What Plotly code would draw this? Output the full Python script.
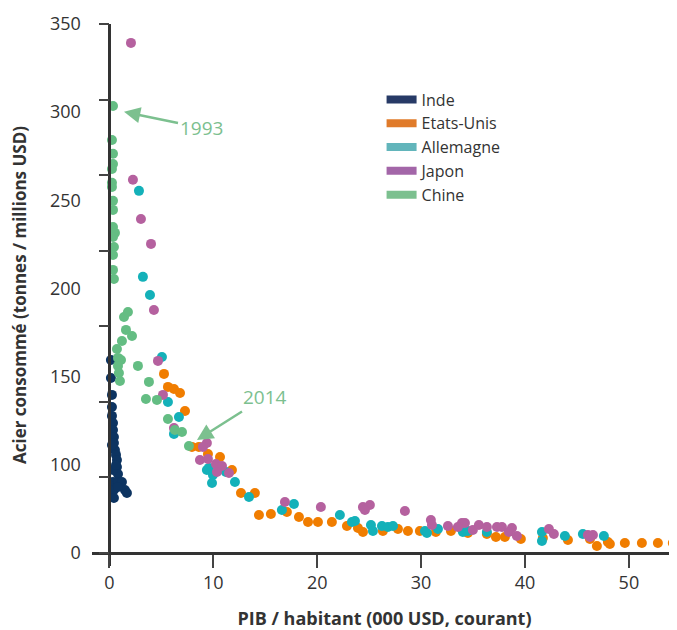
import plotly.graph_objects as go

# ---- data (GDP per capita, 000 USD ; steel consumed, t / million USD) ----
inde_x = [0.14, 0.14, 0.24, 0.24, 0.24, 0.34, 0.34, 0.43, 0.43, 0.53, 0.63, 0.72, 0.72,
          0.82, 0.34, 0.24, 0.34, 0.82, 1.20, 1.49, 1.68, 0.43, 0.43, 0.82, 0.63]
inde_y = [127.7, 115.8, 104.6, 96.6, 90.7, 86.0, 81.4, 76.8, 72.8, 68.2, 64.9, 61.5, 56.9,
          52.3, 54.9, 71.5, 47.0, 47.0, 47.0, 41.7, 39.7, 41.7, 36.4, 43.7, 58.2]

usa_x = [5.25, 5.63, 6.21, 6.79, 7.27, 7.94, 8.61, 9.48, 10.64, 11.79, 12.66, 14.00, 14.39,
         15.54, 17.08, 18.24, 19.11, 20.07, 21.41, 22.86, 23.92, 24.40, 26.32, 27.77, 28.73,
         29.88, 31.42, 32.87, 34.50, 36.33, 37.20, 38.06, 39.60, 41.72, 44.13, 46.25, 46.92,
         47.98, 48.17, 49.61, 51.25, 52.79, 54.23]
usa_y = [118.5, 109.9, 108.5, 105.9, 94.0, 70.2, 70.2, 65.5, 63.5, 54.9, 39.7, 39.7, 25.1,
         25.8, 27.1, 23.8, 20.5, 20.5, 20.5, 17.9, 16.5, 13.9, 14.6, 15.9, 14.6,
         14.6, 13.9, 14.6, 13.2, 12.6, 10.6, 10.6, 9.3, 9.9, 8.6, 9.3, 4.6,
         7.3, 6.0, 6.6, 6.6, 6.6, 6.6]

all_x = [2.84, 3.22, 3.90, 5.05, 5.63, 6.69, 6.21, 9.38, 9.58, 9.96, 9.87, 11.21, 12.08,
         13.43, 16.60, 17.76, 22.18, 23.34, 23.63, 25.17, 25.36, 26.23, 26.80, 27.29, 30.37,
         30.56, 31.62, 34.02, 34.50, 36.33, 41.63, 41.63, 43.84, 45.57, 47.59]
all_y = [239.6, 182.7, 170.7, 129.7, 99.9, 90.0, 78.8, 54.9, 56.3, 51.6, 46.3, 53.6, 47.0,
         37.1, 28.5, 32.4, 25.1, 20.5, 21.2, 18.5, 14.6, 17.9, 17.2, 17.9, 14.6,
         13.2, 15.9, 13.9, 14.6, 13.9, 13.9, 7.9, 11.3, 12.6, 11.3]

jap_x = [2.07, 2.26, 3.03, 4.00, 4.28, 4.67, 5.15, 6.21, 9.38, 9.00, 8.71, 9.48, 10.25,
         10.83, 10.35, 11.50, 16.89, 20.35, 24.40, 25.07, 24.59, 28.44, 30.94, 31.04, 32.58,
         33.93, 34.22, 33.54, 34.98, 35.56, 36.33, 37.30, 37.78, 38.74, 38.45, 39.22, 42.30,
         42.78, 46.05, 46.54, 46.25]
jap_y = [337.5, 246.9, 221.0, 204.5, 160.8, 127.1, 104.6, 82.7, 72.8, 70.2, 61.5, 62.2, 58.9,
         57.6, 53.6, 52.9, 33.8, 30.4, 30.4, 31.8, 28.5, 27.8, 21.8, 18.5, 17.9,
         19.9, 19.9, 17.2, 15.2, 18.5, 17.2, 17.2, 17.2, 16.5, 13.9, 11.3, 15.9,
         12.6, 11.9, 11.9, 10.6]

chi_x = [0.34, 0.24, 0.34, 0.34, 0.24, 0.24, 0.24, 0.34, 0.34, 0.34, 0.53, 0.34, 0.43,
         0.34, 0.34, 0.43, 1.40, 1.78, 1.59, 2.17, 1.20, 0.72, 0.82, 1.11, 0.82, 0.91,
         1.01, 2.74, 3.80, 3.51, 4.57, 5.63, 6.30, 6.98, 7.65]
chi_y = [295.8, 273.3, 264.1, 257.4, 254.1, 244.9, 242.2, 233.0, 227.0, 215.7, 211.8, 209.1,
         202.5, 197.2, 187.3, 181.3, 156.2, 159.5, 147.6, 143.6, 140.3, 135.0, 129.1, 127.7,
         123.8, 119.1, 113.8, 123.8, 113.2, 101.9, 101.3, 88.7, 81.4, 80.1, 70.8]

series = [
    ("Inde", inde_x, inde_y, "#0d3461", "#273a66"),
    ("Etats-Unis", usa_x, usa_y, "#f07d00", "#e07b2a"),
    ("Allemagne", all_x, all_y, "#14b1b9", "#62b5bb"),
    ("Japon", jap_x, jap_y, "#b5619f", "#a366a8"),
    ("Chine", chi_x, chi_y, "#64bd83", "#7cc08f"),
]

y_ticks = [0, 50, 100, 150, 200, 250, 300, 350]
y_label_vals = [0, 350 / 6, 700 / 6, 175, 1400 / 6, 1750 / 6, 350]
y_label_text = ["0", "100", "150", "200", "250", "300", "350"]
x_ticks = [0, 10, 20, 30, 40, 50]

FONT = "Open Sans"
XR = [-1.68, 54.63]
YR = [-8.6, 350]

fig = go.Figure()
for name, xs, ys, col, lcol in series:
    fig.add_trace(go.Scatter(x=xs, y=ys, mode="markers", name=name, showlegend=False,
                             marker=dict(size=10, color=col, line=dict(width=0))))
for name, xs, ys, col, lcol in series:
    fig.add_trace(go.Scatter(x=[None], y=[None], mode="lines", name=name,
                             line=dict(color=lcol, width=8)))
# helper trace so the label axis is drawn
fig.add_trace(go.Scatter(x=[None], y=[None], yaxis="y2", showlegend=False, hoverinfo="skip"))

x0_pos = (0 - XR[0]) / (XR[1] - XR[0])
y0_pos = (0 - YR[0]) / (YR[1] - YR[0])

fig.update_layout(
    width=669, height=622,
    margin=dict(l=84, r=0, t=16, b=64, autoexpand=False),
    plot_bgcolor="white", paper_bgcolor="white",
    font=dict(family=FONT, color="#333333", size=18),
    xaxis=dict(range=XR, tickvals=x_ticks, ticks="outside", ticklen=13, tickwidth=2,
               tickcolor="#444444", showline=True, linecolor="#333333", linewidth=2.5,
               showgrid=False, zeroline=False, anchor="free", position=y0_pos,
               tickfont=dict(size=18, color="#333333"),
               title=dict(text="<b>PIB / habitant (000 USD, courant)</b>",
                          font=dict(size=18, color="#333333"), standoff=22),
               automargin=False),
    yaxis=dict(range=YR, tickvals=y_ticks, ticks="outside", ticklen=10, tickwidth=2,
               tickcolor="#444444", showline=True, linecolor="#333333", linewidth=2.5,
               showgrid=False, zeroline=False, showticklabels=False,
               anchor="free", position=x0_pos, automargin=False),
    yaxis2=dict(range=YR, overlaying="y", side="left", anchor="free", position=x0_pos,
                tickvals=y_label_vals, ticktext=y_label_text, ticks="outside", ticklen=25,
                tickcolor="rgba(0,0,0,0)", showline=False, showgrid=False, zeroline=False,
                tickfont=dict(size=18, color="#333333"),
                title=dict(text="<b>Acier consommé (tonnes / millions USD)</b>",
                           font=dict(size=17, color="#333333"), standoff=18),
                automargin=False),
    legend=dict(x=0.495, y=0.892, xanchor="left", yanchor="top",
                font=dict(size=16, color="#333333"), bgcolor="rgba(0,0,0,0)",
                tracegroupgap=0, itemwidth=30),
    showlegend=True,
)

fig.add_annotation(x=1.40, y=291.9, xref="x", yref="y", text="1993", showarrow=True,
                   ax=77, ay=16, arrowhead=2, arrowsize=1.3, arrowwidth=2.5,
                   arrowcolor="#7cc08f", font=dict(size=19, color="#7cc08f", family=FONT))
fig.add_annotation(x=8.42, y=74.8, xref="x", yref="y", text="2014", showarrow=True,
                   ax=68, ay=-43, arrowhead=2, arrowsize=1.3, arrowwidth=2.5,
                   arrowcolor="#7cc08f", font=dict(size=19, color="#7cc08f", family=FONT))

fig.write_html("out.html")
